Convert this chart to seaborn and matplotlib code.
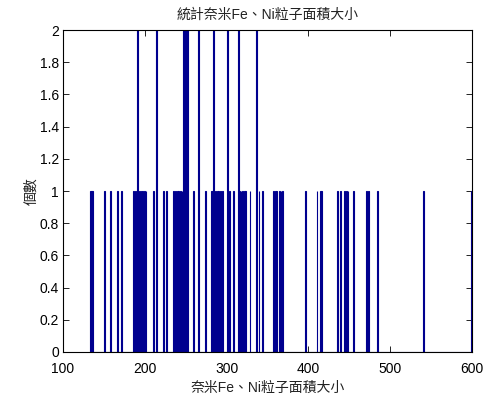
import matplotlib
matplotlib.use("Agg")
import matplotlib.pyplot as plt
import seaborn as sns
import pandas as pd

# Measured particle areas (one entry per particle)
single_areas = [133, 134, 136, 150, 158, 166, 171, 186, 188, 192, 194, 196, 197,
                199, 201, 210, 222, 226, 235, 237, 239, 241, 243, 245, 248, 250,
                259, 274, 281, 282, 286, 288, 290, 292, 294, 303, 308, 315, 317,
                319, 321, 323, 328, 339, 343, 357, 359, 361, 364, 366, 368, 396,
                410, 414, 416, 435, 439, 444, 446, 448, 455, 471, 473, 484, 540,
                600]
double_areas = [191, 214, 247, 249, 252, 265, 283, 301, 314, 336]

x_ticks = [100, 200, 300, 400, 500, 600]
y_ticks = [0, 0.2, 0.4, 0.6, 0.8, 1, 1.2, 1.4, 1.6, 1.8, 2]
y_tick_labels = ["0", "0.2", "0.4", "0.6", "0.8", "1", "1.2", "1.4", "1.6", "1.8", "2"]

title_text = "統計奈米Fe、Ni粒子面積大小"
x_label = "奈米Fe、Ni粒子面積大小"
y_label = "個數"

areas = single_areas + double_areas * 2
df = pd.DataFrame({"area": areas})

sns.set_style("ticks")
mixed = ["Liberation Sans", "Noto Sans CJK TC", "DejaVu Sans"]
plt.rcParams["font.family"] = mixed

fig = plt.figure(figsize=(4.93, 3.98), dpi=100)
ax = fig.add_axes([0.1278, 0.1156, 0.8296, 0.809])

bar_color = "#00008f"
sns.histplot(data=df, x="area", binwidth=1, binrange=(133, 600), stat="count",
             color=bar_color, edgecolor=bar_color, linewidth=0.8, alpha=1.0,
             ax=ax)

ax.set_xlim(100, 600)
ax.set_ylim(0, 2)
ax.set_xticks(x_ticks)
ax.set_xticklabels([str(t) for t in x_ticks], fontsize=10)
ax.set_yticks(y_ticks)
ax.set_yticklabels(y_tick_labels, fontsize=10)

for s in ax.spines.values():
    s.set_visible(True)
    s.set_color("black")
    s.set_linewidth(0.8)
ax.tick_params(direction="in", length=4, width=0.6, top=True, right=True,
               colors="black")
ax.tick_params(axis="x", pad=7)
ax.tick_params(axis="y", pad=3)

ax.set_title(title_text, fontsize=10, family=mixed, pad=8, color="#222222")
ax.set_xlabel(x_label, fontsize=10, family=mixed, labelpad=4, color="#222222")
ax.set_ylabel(y_label, fontsize=10, family=mixed, labelpad=1, color="#222222")

fig.savefig("out.png", dpi=100, facecolor="white")
